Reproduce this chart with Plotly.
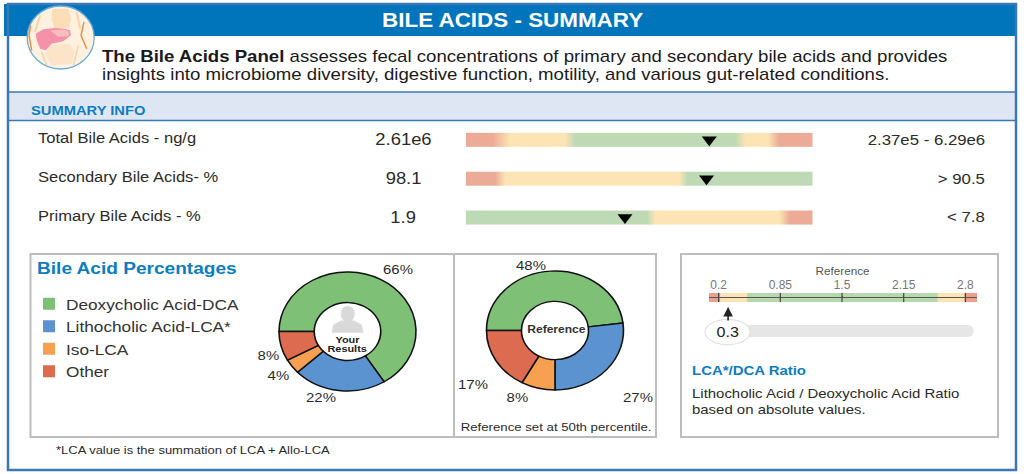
import plotly.graph_objects as go

W, H = 1024, 474

# ---------- data ----------
TITLE = "BILE ACIDS - SUMMARY"
DESC_1 = "<b>The Bile Acids Panel</b> assesses fecal concentrations of primary and secondary bile acids and provides"
DESC_2 = "insights into microbiome diversity, digestive function, motility, and various gut-related conditions."
ROW_LABELS = ["Total Bile Acids - ng/g", "Secondary Bile Acids- %", "Primary Bile Acids - %"]
ROW_VALUES = ["2.61e6", "98.1", "1.9"]
ROW_RANGES = ["2.37e5 - 6.29e6", "> 90.5", "< 7.8"]
ROW_MARKERS = [70.2, 69.4, 45.9]            # position along each gauge, percent
# zone stops along each gauge: percent, level (0 red, .5 yellow, 1 green)
ROW_STOPS = [
    [0, 7.6, 12.8, 28.6, 31.5, 77.6, 80.5, 87.1, 90.3, 100],
    [0, 8.4, 11.3, 61.5, 63.8, 100],
    [0, 52.2, 54.6, 90.3, 93.5, 100],
]
ROW_LEVELS = [
    [0, 0, .5, .5, 1, 1, .5, .5, 0, 0],
    [0, 0, .5, .5, 1, 1],
    [1, 1, .5, .5, 0, 0],
]

SLICE_LABELS = ["Deoxycholic Acid-DCA", "Lithocholic Acid-LCA*", "Iso-LCA", "Other"]
SLICE_COLORS = ["#7FC077", "#5B93D0", "#F7A052", "#DD6B50"]
YOUR_VALUES = [66, 22, 4, 8]
REF_VALUES = [48, 27, 8, 17]

RATIO_TICKS = [0.2, 0.85, 1.5, 2.15, 2.8]
RATIO_EDGES = [0.097, 0.22, 0.5, 2.51, 2.79, 2.922]
RATIO_COLORS = ["#EE9F8C", "#FDE4B4", "#B7D8AC", "#FDE4B4", "#EE9F8C"]
RATIO_VALUE = 0.3

FONT = "Liberation Sans, Arial, sans-serif"
BLUE = "#0075BC"
EDGE = "#3C78B4"
GREY = "#BDBDBD"
INK = "#2B2B2B"


def px(x):
    return x / W


def py(y):
    return 1 - y / H


def path(points, close=True):
    s = "M" + " L".join(f"{px(x):.5f},{py(y):.5f}" for x, y in points)
    return s + (" Z" if close else "")


fig = go.Figure()

# ---------- gauges ----------
RED, YEL, GRN = "#EBAB96", "#FDE4B4", "#BEDAB5"
for i, (stops, levels) in enumerate(zip(ROW_STOPS, ROW_LEVELS)):
    fig.add_trace(go.Heatmap(
        x=stops, y=[i - 0.089, i + 0.089], z=[levels, levels], zmin=0, zmax=1,
        zsmooth="best", showscale=False, hoverinfo="skip",
        colorscale=[[0, RED], [.5, YEL], [1, GRN]], xaxis="x", yaxis="y"))
fig.add_trace(go.Scatter(
    x=ROW_MARKERS, y=[0, 1, 2], mode="markers", hoverinfo="skip", showlegend=False,
    marker=dict(symbol="triangle-down", size=13, color="#000000"), xaxis="x", yaxis="y"))

# ---------- donuts ----------
DONUT_W = 137
fig.add_trace(go.Pie(
    labels=SLICE_LABELS, values=YOUR_VALUES, sort=False, direction="clockwise", rotation=270,
    hole=0.486, textinfo="none", hoverinfo="skip",
    marker=dict(colors=SLICE_COLORS, line=dict(color="#111111", width=1.6)),
    domain=dict(x=[px(347.5 - DONUT_W / 2), px(347.5 + DONUT_W / 2)],
                y=[py(331.5 + DONUT_W / 2), py(331.5 - DONUT_W / 2)])))
fig.add_trace(go.Pie(
    labels=SLICE_LABELS, values=REF_VALUES, sort=False, direction="clockwise", rotation=270,
    hole=0.49, textinfo="none", hoverinfo="skip", showlegend=False,
    marker=dict(colors=SLICE_COLORS, line=dict(color="#111111", width=1.6)),
    domain=dict(x=[px(555 - DONUT_W / 2), px(555 + DONUT_W / 2)],
                y=[py(330.5 + DONUT_W / 2), py(330.5 - DONUT_W / 2)])))

# ---------- ratio gauge ----------
fig.add_trace(go.Bar(
    y=[0] * len(RATIO_COLORS), base=RATIO_EDGES[:-1],
    x=[b - a for a, b in zip(RATIO_EDGES[:-1], RATIO_EDGES[1:])],
    orientation="h", width=1, marker=dict(color=RATIO_COLORS, line=dict(width=0)),
    hoverinfo="skip", showlegend=False, xaxis="x2", yaxis="y2"))
fig.add_trace(go.Scatter(
    x=RATIO_TICKS, y=[0] * len(RATIO_TICKS), mode="markers", hoverinfo="skip", showlegend=False,
    marker=dict(symbol="line-ns", size=7, line=dict(color="#444444", width=1.2)),
    xaxis="x2", yaxis="y2"))

# ---------- shapes ----------
shapes = []


def rect(x0, y0, x1, y1, fill="rgba(0,0,0,0)", line=None, width=0, layer="below"):
    shapes.append(dict(type="rect", xref="paper", yref="paper", x0=px(x0), x1=px(x1), y0=py(y1), y1=py(y0),
                       fillcolor=fill, line=dict(color=line or "rgba(0,0,0,0)", width=width), layer=layer))


def oval(cx, cy, rx, ry, fill, line=None, width=0, layer="above"):
    shapes.append(dict(type="circle", xref="paper", yref="paper", x0=px(cx - rx), x1=px(cx + rx),
                       y0=py(cy + ry), y1=py(cy - ry), fillcolor=fill,
                       line=dict(color=line or "rgba(0,0,0,0)", width=width), layer=layer))


def poly(points, fill=None, line=None, width=0, close=True, layer="above"):
    shapes.append(dict(type="path", xref="paper", yref="paper", path=path(points, close),
                       fillcolor=fill or "rgba(0,0,0,0)",
                       line=dict(color=line or "rgba(0,0,0,0)", width=width), layer=layer))


def icon(points):
    return [(15 + x / 3, 2 + y / 3) for x, y in points]


rect(4, 4, 1016, 36, fill=BLUE)
rect(8, 92, 1016, 120.5, fill="#DFE6F3")
for y in (92, 120.5):
    rect(8, y, 1016, y, line=EDGE, width=1.5)
rect(8, 4, 1016, 470, line=EDGE, width=2.5)
rect(30.5, 254, 454, 437, line=GREY, width=2)
rect(454, 254, 656, 437, line=GREY, width=2)
rect(681, 254, 998, 437, line=GREY, width=2)

# liver illustration
oval(60.7, 37.5, 33.5, 31.5, "#FEF1E0", "#69ACD8", 1.3)
poly(icon([(112, 20), (160, 20), (168, 50), (162, 78), (118, 78), (110, 50)]), fill="#FBDDB8")
poly(icon([(100, 130), (165, 125), (180, 150), (170, 185), (110, 190), (92, 160)]), fill="#FCE4C8")
poly(icon([(62, 95), (85, 82), (120, 78), (150, 80), (165, 85), (168, 100), (145, 118), (110, 125),
           (92, 145), (76, 140), (66, 118)]), fill="#F592AA")
poly(icon([(105, 85), (150, 83), (163, 90), (160, 102), (130, 105)]), fill="#F9BDC0")
poly(icon([(47, 70), (42, 100), (50, 145)]), line="#F0883C", width=1.4, close=False)
poly(icon([(207, 60), (198, 100), (215, 140)]), line="#F0883C", width=1.4, close=False)
poly(icon([(75, 40), (60, 90)]), line="#F9D3A6", width=2, close=False)
poly(icon([(185, 30), (195, 80)]), line="#F9D3A6", width=2, close=False)
poly(icon([(80, 150), (95, 190)]), line="#F9D3A6", width=1.6, close=False)
poly(icon([(190, 130), (175, 190)]), line="#F9D3A6", width=1.6, close=False)

# "Your results" person
oval(347.7, 314, 7, 8, "#D9D9D9")
poly([(331.7, 332.7), (333, 325), (341, 320.5), (354, 320.5), (362, 325), (363.3, 332.7)], fill="#D9D9D9")

# ratio track and value oval
poly([(745, 325), (968, 325), (972, 326.5), (974, 331), (972, 335.5), (968, 337), (745, 337)], fill="#E6E6E6")
oval(727.5, 332, 22.5, 12.7, "#FFFFFF", "#E2E2E2", 1.2)

# ---------- text ----------
notes = []


def text(x, y, s, size, color=INK, anchor="left", bold=False):
    notes.append(dict(x=px(x), y=py(y), xref="paper", yref="paper", text=f"<b>{s}</b>" if bold else s,
                      showarrow=False, xanchor=anchor, yanchor="middle", align=anchor, borderpad=0, borderwidth=0,
                      font=dict(size=size, color=color, family=FONT)))


text(512, 20, TITLE, 19.5, "#FFFFFF", "center", True)
text(102, 56, DESC_1, 16.2, "#1A1A1A")
text(102, 74, DESC_2, 16.2, "#1A1A1A")
text(31, 110, "SUMMARY INFO", 12.8, "#0B7DC2", bold=True)
for i, (lab, val, rng) in enumerate(zip(ROW_LABELS, ROW_VALUES, ROW_RANGES)):
    text(38, 138.5 + 38.8 * i, lab, 14.4)
    text(403, 140 + 38.8 * i, val, 16, anchor="center")
    text(985, 140 + 38.5 * i, rng, 14.6, anchor="right")

text(37, 268, "Bile Acid Percentages", 16.6, "#0B7DC2", bold=True)
text(347.3, 339, "Your", 9.5, "#222222", "center", True)
text(347.3, 348.5, "Results", 9.5, "#222222", "center", True)
for (x, y), v in zip([(397.7, 269), (321, 397.7), (278.7, 375.7), (268, 355.7)], YOUR_VALUES):
    text(x, y, f"{v}%", 13, anchor="center")
text(556, 329, "Reference", 10.5, "#333333", "center", True)
for (x, y), v in zip([(531, 265), (637.5, 397), (517.6, 397), (472.7, 384)], REF_VALUES):
    text(x, y, f"{v}%", 13, anchor="center")
text(555.5, 427, "Reference set at 50th percentile.", 11.5, anchor="center")
text(55.5, 450, "*LCA value is the summation of LCA + Allo-LCA", 11.3)

text(842, 271, "Reference", 10.2, "#555555", "center")
text(691.5, 370.7, "LCA*/DCA Ratio", 13, "#0B7DC2", bold=True)
text(691.5, 393.7, "Lithocholic Acid / Deoxycholic Acid Ratio", 13)
text(691.5, 409, "based on absolute values.", 13)

notes.append(dict(x=RATIO_VALUE, xref="x2", y=py(331.7), yref="paper", text=str(RATIO_VALUE), showarrow=False,
                  xanchor="center", yanchor="middle", font=dict(size=14, color="#222222", family=FONT)))
notes.append(dict(x=RATIO_VALUE, xref="x2", y=py(307), yref="paper", text="", showarrow=True, ax=0, ay=15,
                  arrowhead=2, arrowsize=1.2, arrowwidth=1.6, arrowcolor="#222222"))

# ---------- layout ----------
fig.update_layout(
    width=W, height=H, margin=dict(l=0, r=0, t=0, b=0, pad=0),
    paper_bgcolor="#FFFFFF", plot_bgcolor="rgba(0,0,0,0)",
    font=dict(family=FONT, color=INK), shapes=shapes, annotations=notes, barmode="overlay",
    showlegend=True,
    legend=dict(x=px(26), y=py(287.5), xanchor="left", yanchor="top", bgcolor="rgba(0,0,0,0)",
                font=dict(size=15, color="#333333", family=FONT), itemclick=False, itemdoubleclick=False),
    xaxis=dict(domain=[px(465.7), px(812.7)], range=[0, 100], visible=False, fixedrange=True),
    yaxis=dict(domain=[py(236.9), py(120.35)], range=[2.5, -0.5], visible=False, fixedrange=True),
    xaxis2=dict(domain=[px(708.8), px(977)], range=[0.0968, 2.922], anchor="free", position=py(297),
                side="top", tickvals=RATIO_TICKS, ticktext=[str(t) for t in RATIO_TICKS],
                ticks="outside", ticklen=1, tickcolor="#444444", showgrid=False, zeroline=False,
                showline=True, linecolor="#555555", linewidth=1.2,
                tickfont=dict(size=12, color="#777777", family=FONT), ticklabelstandoff=2, fixedrange=True),
    yaxis2=dict(domain=[py(302.3), py(292.7)], range=[-0.5, 0.5], visible=False, fixedrange=True, anchor="x2"),
)

# The reference is a raster stretched wider than tall: apply that same stretch to donuts and text.
post = """
var s = document.createElement('style');
s.textContent = 'html,body{margin:0;padding:0;overflow:hidden}'
  + '.pielayer .trace{transform-box:fill-box;transform-origin:center;transform:scaleY(0.869)}'
  + '.legendpoints path{stroke-width:0 !important}'
  + '.legendpoints{transform:translate(3px,0)}'
  + '.legend .scrollbox{clip-path:none !important}'
  + '.legend{clip-path:none !important}';
document.head.appendChild(s);
function stretch(){
  var gd = document.querySelector('.js-plotly-plot');
  if(!gd) return;
  function apply(t, anchor){
    var b = t.getBBox();
    var x = anchor === 'left' ? b.x : anchor === 'right' ? b.x + b.width : b.x + b.width / 2;
    t.setAttribute('transform', 'translate(' + x + ',0) scale(1.15,1) translate(' + (-x) + ',0)');
  }
  gd.querySelectorAll('.annotation').forEach(function(a){
    var t = a.querySelector('text');
    if(t) apply(t, gd.layout.annotations[+a.getAttribute('data-index')].xanchor);
  });
  gd.querySelectorAll('.legendtext').forEach(function(t){ apply(t, 'left'); });
}
stretch();
setTimeout(stretch, 0);
setTimeout(stretch, 200);
"""
fig.write_html("out.html", post_script=post, config={"displayModeBar": False})
